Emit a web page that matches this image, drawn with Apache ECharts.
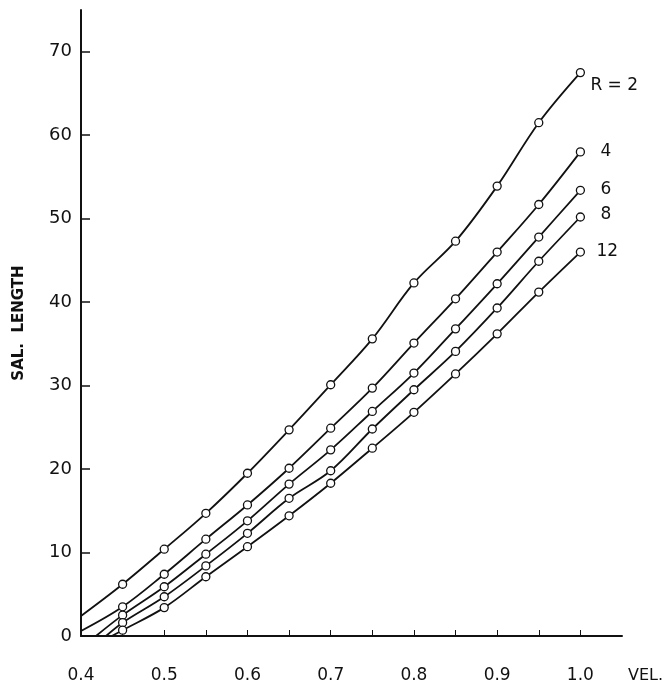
<!DOCTYPE html>
<html>
<head>
<meta charset="utf-8">
<script src="https://cdn.jsdelivr.net/npm/echarts@6/dist/echarts.min.js"></script>
<style>html,body{margin:0;padding:0;background:#fff;}#c{width:670px;height:688px;}</style>
</head>
<body>
<div id="c"></div>
<script>
// velocity values for the plotted points
const vel = [0.45, 0.5, 0.55, 0.6, 0.65, 0.7, 0.75, 0.8, 0.85, 0.9, 0.95, 1.0];
// line start points (on the axes, no marker)
const startR2 = [0.4, 2.4];
const startR4 = [0.4, 0.6];
const startR6 = [0.418, 0];
const startR8 = [0.43, 0];
const startR12 = [0.437, 0];
// SAL. LENGTH values at each velocity
const r2  = [6.2, 10.4, 14.7, 19.5, 24.7, 30.1, 35.6, 42.3, 47.3, 53.9, 61.5, 67.5];
const r4  = [3.5, 7.4, 11.6, 15.7, 20.1, 24.9, 29.7, 35.1, 40.4, 46.0, 51.7, 58.0];
const r6  = [2.5, 5.9, 9.8, 13.8, 18.2, 22.3, 26.9, 31.5, 36.8, 42.2, 47.8, 53.4];
const r8  = [1.6, 4.7, 8.4, 12.3, 16.5, 19.8, 24.8, 29.5, 34.1, 39.3, 44.9, 50.2];
const r12 = [0.7, 3.4, 7.1, 10.7, 14.4, 18.3, 22.5, 26.8, 31.4, 36.2, 41.2, 46.0];
const seriesNames = ['R = 2', '4', '6', '8', '12'];
// tick labels
const xTickLabels = [0.4, 0.5, 0.6, 0.7, 0.8, 0.9, 1.0];
const xTicks = [0.4, 0.45, 0.5, 0.55, 0.6, 0.65, 0.7, 0.75, 0.8, 0.85, 0.9, 0.95, 1.0];
const yTickLabels = [0, 10, 20, 30, 40, 50, 60, 70];

const font = 'DejaVu Sans';
function build(start, vals) {
  const d = [{value: start, symbol: 'none'}];
  vals.forEach((v, i) => d.push([vel[i], v]));
  return d;
}
const sets = [[startR2, r2], [startR4, r4], [startR6, r6], [startR8, r8], [startR12, r12]];
const labelOffsets = [[2, 13], [12, 0], [12, -1], [12, -2], [8, 0]];

const chart = echarts.init(document.getElementById('c'));
chart.setOption({
  animation: false,
  backgroundColor: '#fff',
  grid: {left: 81, right: 48, top: 10, bottom: 52},
  xAxis: {
    type: 'value', min: 0.4, max: 1.05,
    name: 'VEL.', nameLocation: 'end', nameGap: 6,
    nameTextStyle: {fontFamily: font, fontSize: 16, color: '#111', verticalAlign: 'top', align: 'left', padding: [32, 0, 0, 0]},
    axisLine: {lineStyle: {color: '#111', width: 2}},
    axisTick: {show: true, inside: true, length: 6, customValues: xTicks, lineStyle: {color: '#111', width: 1}},
    axisLabel: {customValues: xTickLabels, margin: 31, fontFamily: font, fontSize: 17, color: '#111',
      formatter: v => (+v).toFixed(1)},
    splitLine: {show: false}
  },
  yAxis: {
    type: 'value', min: 0, max: 75,
    name: 'SAL.  LENGTH', nameLocation: 'middle', nameGap: 54, nameRotate: 90,
    nameTextStyle: {fontFamily: font, fontSize: 15, fontWeight: 'bold', color: '#111'},
    axisLine: {lineStyle: {color: '#111', width: 2}},
    axisTick: {show: true, inside: true, length: 9, customValues: yTickLabels, lineStyle: {color: '#111', width: 1.5}},
    axisLabel: {customValues: yTickLabels, margin: 9, fontFamily: font, fontSize: 18, color: '#111'},
    splitLine: {show: false}
  },
  series: sets.map((s, i) => ({
    name: seriesNames[i],
    type: 'line',
    data: build(s[0], s[1]),
    smooth: 0.35,
    symbol: 'circle', symbolSize: 8,
    showAllSymbol: true,
    lineStyle: {color: '#111', width: 1.8},
    itemStyle: {color: '#fff', borderColor: '#111', borderWidth: 1.3},
    endLabel: {show: true, formatter: seriesNames[i], offset: labelOffsets[i],
      fontFamily: font, fontSize: 17, color: '#111'},
    z: 2
  }))
});
</script>
</body>
</html>
